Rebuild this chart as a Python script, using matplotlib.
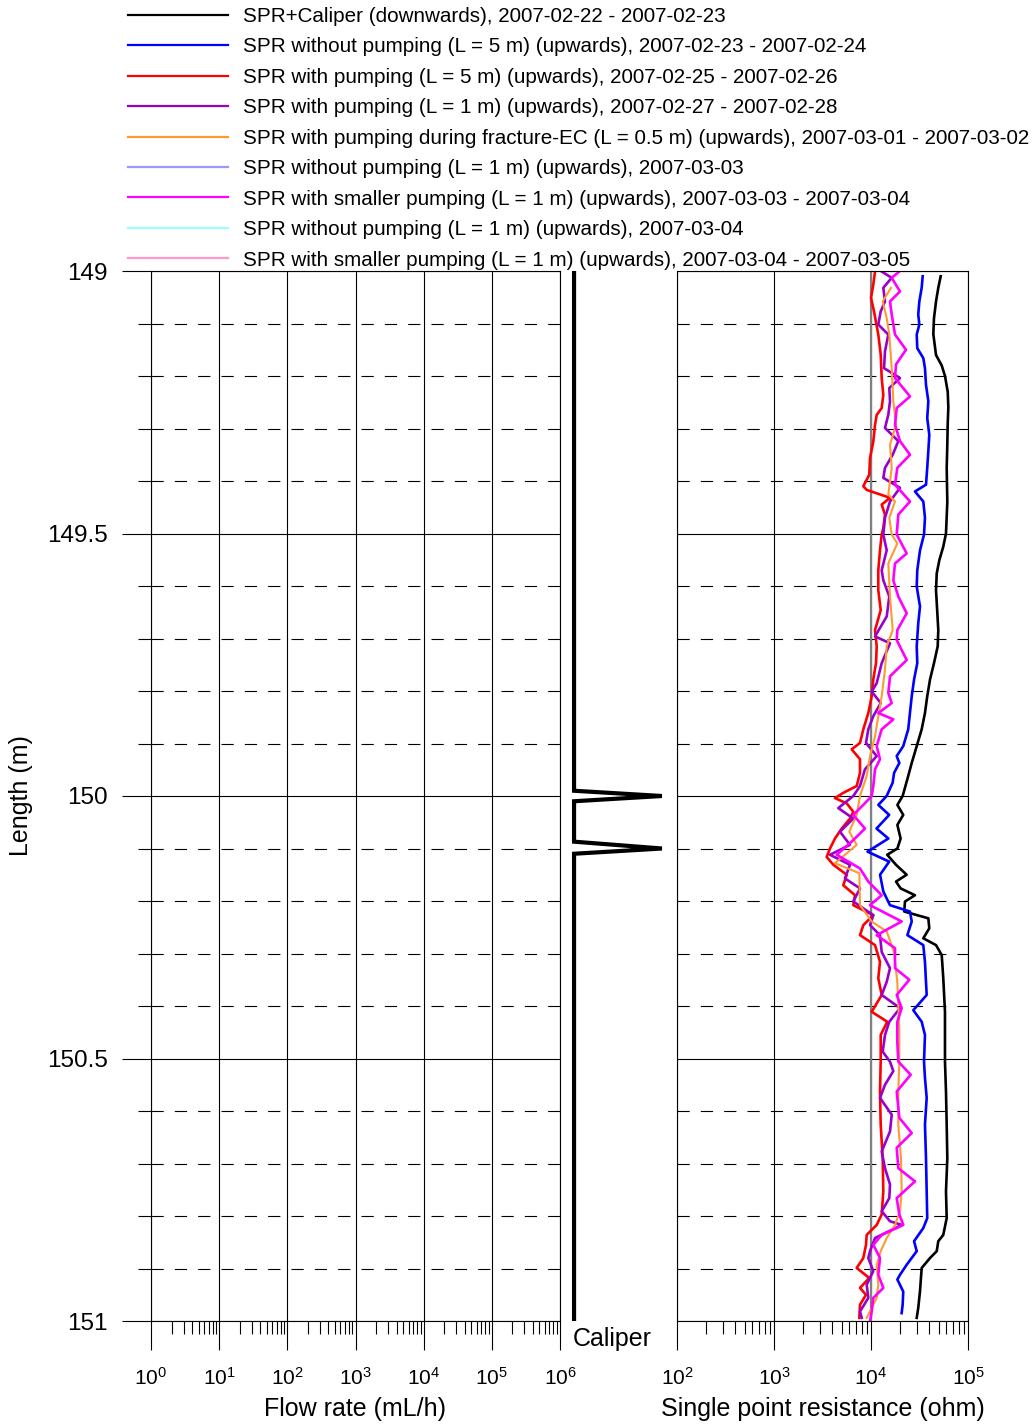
import numpy as np
import matplotlib
matplotlib.use("Agg")
import matplotlib.pyplot as plt
from matplotlib.ticker import LogLocator, MultipleLocator, NullFormatter

plt.rcParams['font.family'] = ['Liberation Sans', 'DejaVu Sans']
plt.rcParams['mathtext.default'] = 'regular'

# ---- data (depth in m, SPR in ohm) ----
black_depth = [149.01, 149.032, 149.058, 149.09, 149.12, 149.16, 149.18, 149.20, 149.23, 149.26,
               149.29, 149.33, 149.375, 149.44, 149.50, 149.525, 149.551, 149.576, 149.608, 149.652,
               149.684, 149.715, 149.747, 149.778, 149.81, 149.842, 149.873, 149.905, 149.937, 149.968,
               150.0, 150.017, 150.036, 150.055, 150.081, 150.10, 150.112, 150.131, 150.15, 150.163,
               150.176, 150.189, 150.201, 150.22, 150.233, 150.252, 150.271, 150.284, 150.303, 150.347,
               150.411, 150.506, 150.563, 150.626, 150.69, 150.753, 150.804, 150.836, 150.848, 150.867,
               150.88, 150.899, 150.943, 150.975, 150.994]
black_spr = [52300, 49400, 46800, 44600, 43900, 46800, 53600, 57900, 61800, 62700,
             61800, 61200, 60300, 61200, 59300, 55600, 50600, 47600, 46800, 48300,
             49400, 48700, 44600, 40600, 38000, 36000, 33300, 29600, 26300, 23700,
             21200, 18700, 21500, 18700, 20200, 18700, 14700, 18100, 23300, 18100,
             20200, 28400, 22400, 22000, 39000, 39900, 34600, 46800, 53600, 55600,
             57900, 57900, 59300, 60300, 61200, 59300, 60300, 55600, 49400, 47600,
             40600, 33300, 32000, 30700, 29600]

blue_depth = [149.01, 149.032, 149.058, 149.083, 149.102, 149.121, 149.147, 149.166, 149.185, 149.217,
              149.248, 149.28, 149.312, 149.343, 149.375, 149.407, 149.42, 149.439, 149.47, 149.502,
              149.532, 149.57, 149.601, 149.639, 149.671, 149.715, 149.747, 149.778, 149.81, 149.842,
              149.873, 149.905, 149.924, 149.937, 149.956, 149.975, 150.0, 150.017, 150.036, 150.062,
              150.081, 150.106, 150.125, 150.15, 150.182, 150.208, 150.22, 150.239, 150.265, 150.284,
              150.316, 150.379, 150.408, 150.43, 150.455, 150.506, 150.537, 150.575, 150.626, 150.69,
              150.753, 150.804, 150.823, 150.848, 150.867, 150.893, 150.912, 150.921, 150.944, 150.969,
              150.985]
blue_spr = [34100, 33300, 31500, 30700, 31500, 29600, 30000, 34600, 36000, 36900,
            39000, 38000, 39900, 39000, 38000, 36900, 28400, 34600, 36000, 35200,
            32000, 30000, 29600, 32000, 30700, 29600, 30000, 27800, 26300, 25200,
            24200, 21500, 18400, 19600, 17300, 16700, 14500, 11900, 15400, 11400,
            15100, 9200, 15400, 12400, 13400, 15700, 25200, 26300, 23700, 34600,
            36000, 37500, 27300, 33300, 36000, 35200, 36000, 37500, 36000, 36900,
            37500, 38000, 34600, 27800, 29600, 23300, 19900, 18700, 21500, 21200,
            20700]

red_depth = [149.001, 149.026, 149.051, 149.077, 149.121, 149.159, 149.204, 149.236, 149.261, 149.274,
             149.293, 149.325, 149.356, 149.388, 149.41, 149.417, 149.432, 149.445, 149.464, 149.49,
             149.502, 149.532, 149.57, 149.608, 149.646, 149.684, 149.715, 149.747, 149.778, 149.81,
             149.842, 149.873, 149.899, 149.911, 149.93, 149.956, 149.981, 149.994, 150.004, 150.014,
             150.03, 150.043, 150.062, 150.081, 150.1, 150.116, 150.131, 150.15, 150.17, 150.189,
             150.208, 150.227, 150.246, 150.265, 150.284, 150.316, 150.347, 150.379, 150.411, 150.43,
             150.455, 150.506, 150.563, 150.626, 150.69, 150.753, 150.797, 150.817, 150.836, 150.855,
             150.88, 150.899, 150.918, 150.937, 150.95, 150.969, 150.994]
red_spr = [11000, 10560, 10000, 10740, 11890, 12590, 12890, 13390, 12890, 11450,
           11000, 10560, 9770, 9600, 8330, 9030, 15700, 12890, 13940, 13390,
           12890, 12380, 11890, 11890, 12590, 11000, 11450, 11260, 10560, 10170,
           9380, 8330, 7700, 6320, 7700, 7700, 7120, 5180, 4250, 5620,
           6570, 6070, 4990, 4250, 3780, 3490, 4090, 5620, 5180, 6840,
           6570, 10560, 8330, 7700, 11000, 12380, 11890, 12890, 10170, 14720,
           12590, 12590, 12380, 12590, 13200, 13390, 12890, 11450, 9030, 8880,
           8330, 7120, 9600, 7700, 8880, 7700, 7580]

purple_depth = [149.001, 149.013, 149.032, 149.058, 149.077, 149.102, 149.121, 149.153, 149.185, 149.204,
                149.223, 149.248, 149.274, 149.299, 149.324, 149.35, 149.375, 149.394, 149.413, 149.439,
                149.47, 149.502, 149.532, 149.57, 149.589, 149.62, 149.658, 149.696, 149.709, 149.747,
                149.785, 149.801, 149.823, 149.848, 149.873, 149.899, 149.924, 149.949, 149.981, 150.0,
                150.023, 150.043, 150.068, 150.093, 150.112, 150.131, 150.157, 150.176, 150.201, 150.227,
                150.246, 150.265, 150.297, 150.328, 150.354, 150.379, 150.404, 150.43, 150.455, 150.487,
                150.506, 150.524, 150.55, 150.575, 150.607, 150.639, 150.677, 150.709, 150.74, 150.766,
                150.791, 150.81, 150.817, 150.842, 150.867, 150.88, 150.905, 150.931, 150.956, 150.982,
                150.994]
purple_spr = [12890, 16350, 13390, 13940, 12590, 11890, 15080, 13940, 13620, 19900,
              15440, 15700, 15080, 13940, 19120, 16740, 13940, 13390, 19900, 15700,
              13940, 13390, 14520, 12890, 13390, 15440, 14520, 11000, 15700, 12890,
              11450, 10170, 12590, 10560, 9380, 8880, 11450, 8670, 7700, 6570,
              4600, 6570, 4790, 6070, 3780, 6070, 5390, 7700, 6570, 10560,
              9770, 12380, 12890, 15700, 14520, 12890, 19900, 15440, 13940, 13200,
              15700, 16980, 13940, 12380, 16350, 15700, 12890, 13940, 15700, 15440,
              12890, 15700, 20730, 11000, 9770, 9380, 10560, 9030, 9380, 7700,
              8020]

orange_depth = [149.032, 149.058, 149.09, 149.121, 149.185, 149.248, 149.293, 149.331, 149.375, 149.426,
                149.439, 149.47, 149.502, 149.519, 149.557, 149.62, 149.684, 149.715, 149.759, 149.81,
                149.848, 149.886, 149.924, 149.962, 150.0, 150.036, 150.068, 150.093, 150.128, 150.147,
                150.208, 150.239, 150.258, 150.297, 150.354, 150.443, 150.506, 150.563, 150.626, 150.69,
                150.753, 150.791, 150.817, 150.842, 150.867, 150.893, 150.931, 150.956, 150.994]
orange_spr = [16080, 13200, 14520, 15440, 16350, 16980, 18100, 15700, 16350, 15080,
              17680, 15440, 16350, 18670, 15080, 15700, 16740, 14520, 13940, 12890,
              11890, 11000, 9770, 9030, 7700, 7120, 5970, 7120, 4250, 7580,
              7700, 10170, 14520, 17260, 18670, 19580, 19580, 19120, 19120, 20380,
              20730, 19900, 17680, 14520, 12590, 11450, 11890, 11450, 9030]

magenta_depth = [149.001, 149.013, 149.039, 149.058, 149.083, 149.121, 149.15, 149.178, 149.204, 149.239,
                 149.261, 149.293, 149.324, 149.35, 149.375, 149.407, 149.439, 149.464, 149.502, 149.538,
                 149.557, 149.589, 149.62, 149.652, 149.684, 149.703, 149.741, 149.772, 149.804, 149.823,
                 149.842, 149.854, 149.873, 149.905, 149.93, 149.949, 149.981, 150.0, 150.017, 150.036,
                 150.062, 150.087, 150.112, 150.138, 150.163, 150.189, 150.208, 150.239, 150.265, 150.29,
                 150.328, 150.35, 150.379, 150.404, 150.43, 150.468, 150.506, 150.531, 150.563, 150.613,
                 150.642, 150.67, 150.709, 150.734, 150.766, 150.797, 150.817, 150.836, 150.855, 150.88,
                 150.912, 150.937, 150.956, 150.982, 151.0]
magenta_spr = [19580, 16350, 19900, 15700, 16350, 17680, 22950, 18100, 17680, 25240,
               18410, 17680, 19900, 25240, 18670, 17680, 25240, 19120, 18410, 23340,
               17680, 16980, 19120, 23340, 18670, 18410, 23340, 15700, 15080, 16350,
               11890, 16980, 12890, 11450, 12380, 11000, 10560, 10170, 8330, 6570,
               8670, 6320, 4430, 7700, 9380, 12890, 9770, 20730, 11450, 17680,
               17680, 24820, 18410, 20730, 18670, 18670, 19120, 25660, 18410, 19580,
               26280, 18410, 19120, 28420, 18410, 19580, 21530, 12890, 10560, 12380,
               11890, 13390, 10560, 10170, 9770]

# series not present in this depth interval
lightblue_depth, lightblue_spr = [], []
cyan_depth, cyan_spr = [], []
pink_depth, pink_spr = [], []

caliper_depth = [149.0, 149.99, 150.0, 150.01, 150.087, 150.1, 150.11, 151.0]
caliper_value = [0.0, 0.0, 1.0, 0.0, 0.0, 1.0, 0.0, 0.0]

series = [
    (black_depth, black_spr, 'black', 1.9, 'SPR+Caliper (downwards), 2007-02-22 - 2007-02-23'),
    (blue_depth, blue_spr, '#0000ff', 1.9, 'SPR without pumping (L = 5 m) (upwards), 2007-02-23 - 2007-02-24'),
    (red_depth, red_spr, '#ff0000', 1.9, 'SPR with pumping (L = 5 m) (upwards), 2007-02-25 - 2007-02-26'),
    (purple_depth, purple_spr, '#9900cc', 1.9, 'SPR with pumping (L = 1 m) (upwards), 2007-02-27 - 2007-02-28'),
    (orange_depth, orange_spr, '#ff9933', 1.5, 'SPR with pumping during fracture-EC (L = 0.5 m) (upwards), 2007-03-01 - 2007-03-02'),
    (lightblue_depth, lightblue_spr, '#9999ff', 1.9, 'SPR without pumping (L = 1 m) (upwards), 2007-03-03'),
    (magenta_depth, magenta_spr, '#ff00ff', 1.9, 'SPR with smaller pumping (L = 1 m) (upwards), 2007-03-03 - 2007-03-04'),
    (cyan_depth, cyan_spr, '#99ffff', 1.9, 'SPR without pumping (L = 1 m) (upwards), 2007-03-04'),
    (pink_depth, pink_spr, '#ff99cc', 1.9, 'SPR with smaller pumping (L = 1 m) (upwards), 2007-03-04 - 2007-03-05'),
]

W, H = 1034, 1425
fig = plt.figure(figsize=(W / 100, H / 100), dpi=100)

def fx(px):
    return px / W

def fy(py):
    return 1 - py / H

top, bot = 271, 1321
ax_flow = fig.add_axes([fx(151), fy(bot), fx(560 - 151), (bot - top) / H])
ax_cal = fig.add_axes([fx(560), fy(bot), fx(665 - 560), (bot - top) / H])
ax_spr = fig.add_axes([fx(677), fy(bot), fx(968 - 677), (bot - top) / H])

dash = (0, (11, 10))
for ax in (ax_flow, ax_spr):
    ax.set_xscale('log')
    ax.set_ylim(151, 149)
    ax.yaxis.set_major_locator(MultipleLocator(0.5))
    ax.yaxis.set_minor_locator(MultipleLocator(0.1))
    ax.xaxis.set_major_locator(LogLocator(base=10, numticks=20))
    ax.xaxis.set_minor_locator(LogLocator(base=10, subs=np.arange(2, 10), numticks=20))
    ax.xaxis.set_minor_formatter(NullFormatter())
    ax.grid(axis='x', which='major', color='black', lw=0.8)
    ax.grid(axis='y', which='major', color='black', lw=0.8)
    ax.grid(axis='y', which='minor', color='black', lw=0.8, linestyle=dash)
    ax.tick_params(axis='x', which='major', direction='out', length=21, width=0.8, pad=12, labelsize=15)
    ax.tick_params(axis='x', which='minor', direction='out', length=9.5, width=0.8)
    for s in ax.spines.values():
        s.set_linewidth(0.8)
    ax.set_axisbelow(True)

ax_flow.set_xlim(1, 1e6)
ax_flow.tick_params(axis='y', which='major', direction='out', length=21, width=0.8, pad=10, labelsize=17.5)
ax_flow.tick_params(axis='y', which='minor', direction='out', length=9.5, width=0.8)
ax_flow.yaxis.set_major_formatter(plt.FuncFormatter(lambda v, p: '%g' % v))
ax_flow.set_xlabel('Flow rate (mL/h)', fontsize=18, labelpad=6)
ax_flow.set_ylabel('Length (m)', fontsize=18, labelpad=10)

ax_spr.set_xlim(1e2, 1e5)
ax_spr.tick_params(axis='y', which='both', length=0, labelleft=False)
ax_spr.axvline(1e4, color='#808080', lw=1.6, zorder=1.5)
ax_spr.set_xlabel('Single point resistance (ohm)', fontsize=18, labelpad=6)

handles = []
for depth, spr, color, lw, label in series:
    ln, = ax_spr.plot(spr, depth, color=color, lw=lw, label=label)
    handles.append(ln)

ax_cal.plot(caliper_value, caliper_depth, color='black', lw=3, solid_joinstyle='miter')
ax_cal.set_ylim(151, 149)
ax_cal.set_xlim(-0.16, 1.035)
for s in ax_cal.spines.values():
    s.set_visible(False)
ax_cal.set_xticks([])
ax_cal.set_yticks([])
ax_cal.patch.set_alpha(0)
ax_cal.set_xlabel('Caliper', fontsize=18, labelpad=4)

leg = fig.legend(handles=handles, loc='upper left', bbox_to_anchor=(fx(128), fy(7)),
                 frameon=False, fontsize=14.85, handlelength=4.85, handletextpad=0.71,
                 labelspacing=0.555, borderpad=0, borderaxespad=0)
for h in leg.get_lines():
    h.set_linewidth(1.6)

fig.savefig('out.png', dpi=100)
